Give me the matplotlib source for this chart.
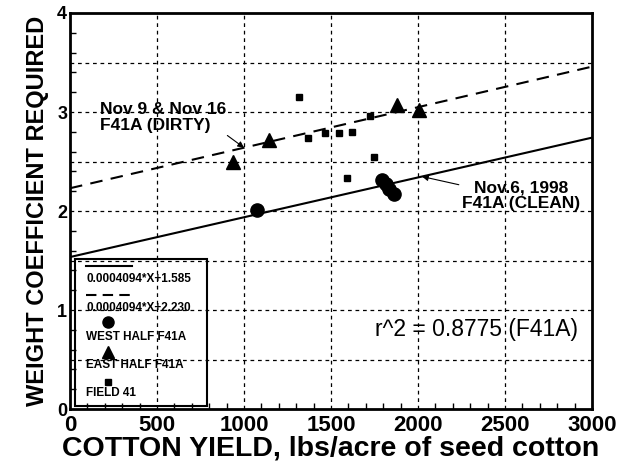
import matplotlib
matplotlib.use('Agg')
import matplotlib.pyplot as plt
from matplotlib.patches import Rectangle
from matplotlib.ticker import MultipleLocator

plt.rcParams['font.family'] = ['Liberation Sans', 'DejaVu Sans']

# West half F41A (circles)
west_x = [1075, 1795, 1815, 1835, 1860]
west_y = [2.01, 2.31, 2.27, 2.22, 2.17]
# East half F41A (triangles)
east_x = [937, 1144, 1879, 2006]
east_y = [2.49, 2.72, 3.07, 3.02]
# Field 41 (squares)
field_x = [1316, 1368, 1466, 1546, 1621, 1592, 1724, 1747]
field_y = [3.15, 2.74, 2.79, 2.79, 2.80, 2.33, 2.96, 2.55]

# regression lines
line_x = [0, 3000]
clean_slope, clean_icpt = 0.000402, 1.535
dirty_slope, dirty_icpt = 0.0004094, 2.230
clean_label = '0.0004094*X+1.585'
dirty_label = '0.0004094*X+2.230'

x_ticks = [0, 500, 1000, 1500, 2000, 2500, 3000]
y_ticks = [0, 1, 2, 3, 4]

fig = plt.figure(figsize=(6.32, 4.71), dpi=100)
ax = fig.add_axes([0.1108, 0.1316, 0.8259, 0.8408])

# grid
for gx in x_ticks[1:-1]:
    ax.axvline(gx, color='black', lw=0.9, ls=(0, (3, 3)), zorder=1)
for gy in [0.5, 1, 1.5, 2, 2.5, 3, 3.5]:
    ax.axhline(gy, color='black', lw=0.9, ls=(0, (3, 3)), zorder=1)

ax.plot(line_x, [clean_icpt + clean_slope * x for x in line_x],
        color='black', lw=1.5, zorder=2)
ax.plot(line_x, [dirty_icpt + dirty_slope * x for x in line_x],
        color='black', lw=1.5, ls=(0, (6, 4)), zorder=2)

ax.plot(west_x, west_y, 'o', color='black', ms=9.5, zorder=3)
ax.plot(east_x, east_y, '^', color='black', ms=10, zorder=3)
ax.plot(field_x, field_y, 's', color='black', ms=5, zorder=3)

ax.set_xlim(0, 3000)
ax.set_ylim(0, 4)
ax.set_xticks(x_ticks)
ax.set_yticks(y_ticks)
ax.xaxis.set_minor_locator(MultipleLocator(100))
ax.yaxis.set_minor_locator(MultipleLocator(0.2))
ax.tick_params(axis='both', which='major', length=0)
ax.tick_params(axis='both', which='minor', direction='in', length=4, width=1)
ax.tick_params(axis='x', which='major', labelsize=16, pad=4)
ax.tick_params(axis='y', which='major', labelsize=13, pad=2)
for lab in ax.get_xticklabels() + ax.get_yticklabels():
    lab.set_fontweight('bold')
for sp in ax.spines.values():
    sp.set_linewidth(2)

ax.set_xlabel('COTTON YIELD, lbs/acre of seed cotton', fontsize=20.5,
              fontweight='bold', labelpad=0)
ax.set_ylabel('WEIGHT COEFFICIENT REQUIRED', fontsize=17,
              fontweight='bold', labelpad=6)

# annotations
ax.annotate('Nov 9 & Nov 16\nF41A (DIRTY)', xy=(1000, dirty_icpt + dirty_slope * 1000),
            xytext=(172, 3.10), ha='left', va='top', fontsize=12.5,
            fontweight='bold', linespacing=1.05,
            arrowprops=dict(arrowstyle='-|>', color='black', lw=0.8,
                            mutation_scale=9, relpos=(0.88, 0.3),
                            shrinkA=0, shrinkB=0))
ax.annotate('Nov.6, 1998\nF41A (CLEAN)', xy=(2023, clean_icpt + clean_slope * 2023),
            xytext=(2590, 2.31), ha='center', va='top', fontsize=12.5,
            fontweight='bold', linespacing=1.05, multialignment='center',
            arrowprops=dict(arrowstyle='-|>', color='black', lw=0.8,
                            mutation_scale=9, relpos=(0.1, 0.75),
                            shrinkA=0, shrinkB=0))

ax.text(1753, 0.80, 'r^2 = 0.8775 (F41A)', fontsize=16.5, ha='left', va='center')

# hand-made legend box
T = ax.transAxes
ax.add_patch(Rectangle((0.0096, 0.0076), 0.2525, 0.371, transform=T,
                       fill=False, lw=1.5, ec='black', zorder=4))
ax.plot([0.031, 0.119], [0.361, 0.361], transform=T, color='black', lw=1.5)
ax.plot([0.031, 0.119], [0.288, 0.288], transform=T, color='black', lw=1.5,
        ls=(0, (5, 3)))
ax.plot([0.073], [0.220], 'o', transform=T, color='black', ms=8)
ax.plot([0.073], [0.144], '^', transform=T, color='black', ms=9)
ax.plot([0.073], [0.068], 's', transform=T, color='black', ms=4)
leg_txt = [(0.328, clean_label), (0.255, dirty_label), (0.182, 'WEST HALF F41A'),
           (0.111, 'EAST HALF F41A'), (0.040, 'FIELD 41')]
for yy, s in leg_txt:
    ax.text(0.031, yy, s, transform=T, fontsize=8.5, fontweight='bold',
            ha='left', va='center')

fig.savefig('out.png', dpi=100)
